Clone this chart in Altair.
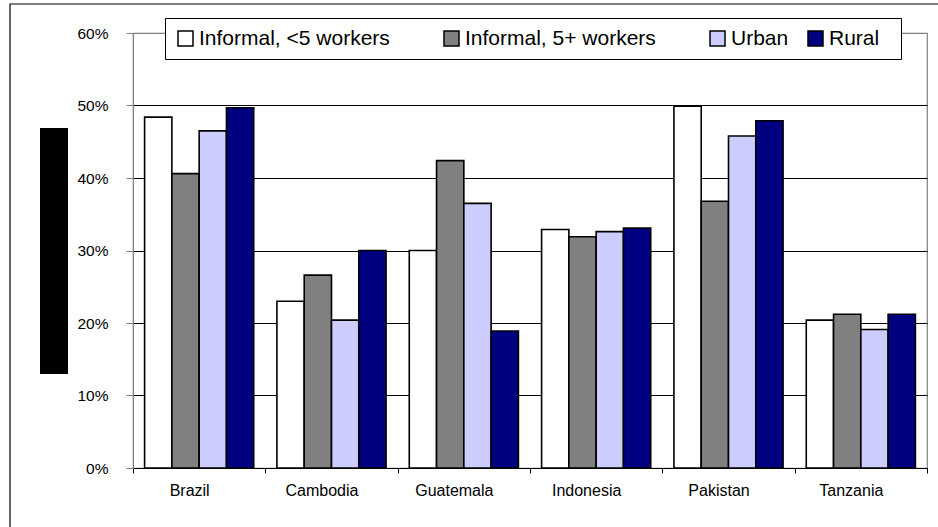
import altair as alt
import pandas as pd

countries = ["Brazil", "Cambodia", "Guatemala", "Indonesia", "Pakistan", "Tanzania"]
series = ["Informal, <5 workers", "Informal, 5+ workers", "Urban", "Rural"]
informal_small = [48.4, 23.0, 30.0, 32.9, 49.9, 20.4]
informal_large = [40.6, 26.6, 42.4, 31.9, 36.8, 21.2]
urban = [46.5, 20.4, 36.5, 32.6, 45.8, 19.1]
rural = [49.7, 30.0, 18.9, 33.1, 47.9, 21.2]
colors = ["#FFFFFF", "#808080", "#CCCCFF", "#000080"]

rows = []
for s, vals in zip(series, [informal_small, informal_large, urban, rural]):
    for c, v in zip(countries, vals):
        rows.append({"country": c, "series": s, "value": v / 100})
df = pd.DataFrame(rows)

FONT = "Liberation Sans"
NB = "\u00a0"
ZW = "\u200b"
label_expr = (
    "datum.label == 'Urban' ? datum.label : (datum.label == 'Rural' ? datum.label + '"
    + NB * 2 + ZW + "' : datum.label + '" + NB * 6 + ZW + "')"
)

bars = alt.Chart(df).mark_bar(stroke="black", strokeWidth=1.6).encode(
    x=alt.X("country:N", sort=countries,
            scale=alt.Scale(paddingInner=0, paddingOuter=0),
            axis=alt.Axis(title=None, labelAngle=0, tickBand="extent",
                          domainColor="black", tickColor="black", tickSize=5,
                          labelFontSize=16, labelPadding=9, labelColor="black",
                          labelFont=FONT, labelOffset=-10)),
    xOffset=alt.XOffset("series:N", sort=series,
                        scale=alt.Scale(paddingInner=0, paddingOuter=0.425)),
    y=alt.Y("value:Q", scale=alt.Scale(domain=[0, 0.6]),
            axis=alt.Axis(title=None, format=".0%", values=[0, 0.1, 0.2, 0.3, 0.4, 0.5, 0.6],
                          domainColor="#808080", tickColor="#808080", tickSize=7,
                          labelFontSize=15.5, labelPadding=18, labelColor="black",
                          labelFont=FONT, grid=True,
                          gridColor=alt.condition("datum.value >= 0.6", alt.value("#808080"), alt.value("black")),
                          gridWidth=1)),
    fill=alt.Fill("series:N", sort=series,
                  scale=alt.Scale(domain=series, range=colors),
                  legend=alt.Legend(title=None, orient="none", legendX=32, legendY=-15,
                                    direction="horizontal", columns=4,
                                    symbolType="square", symbolSize=225,
                                    symbolStrokeColor="black", symbolStrokeWidth=1.5,
                                    labelFontSize=21, labelFont=FONT, labelColor="black",
                                    labelLimit=400, labelOffset=3, columnPadding=16,
                                    padding=10, strokeColor="black", fillColor="white",
                                    labelExpr=label_expr)),
)

frame = alt.Chart(alt.Data(values=[{"a": 1}])).mark_rect(
    fillOpacity=0, stroke="black", strokeWidth=1.2
).encode(x=alt.value(-123), x2=alt.value(830), y=alt.value(-29), y2=alt.value(540))

box = alt.Chart(alt.Data(values=[{"a": 1}])).mark_rect(color="black").encode(
    x=alt.value(-93), x2=alt.value(-65), y=alt.value(95), y2=alt.value(341))

chart = alt.layer(frame, box, bars).properties(
    width=794, height=435,
    padding={"left": 133, "top": 33, "right": 11, "bottom": 59},
    autosize=alt.AutoSizeParams(type="none"),
    background="white",
).configure_view(stroke="#808080", strokeWidth=1.2)

chart.save("out.html", embed_options={"renderer": "svg", "actions": False})
